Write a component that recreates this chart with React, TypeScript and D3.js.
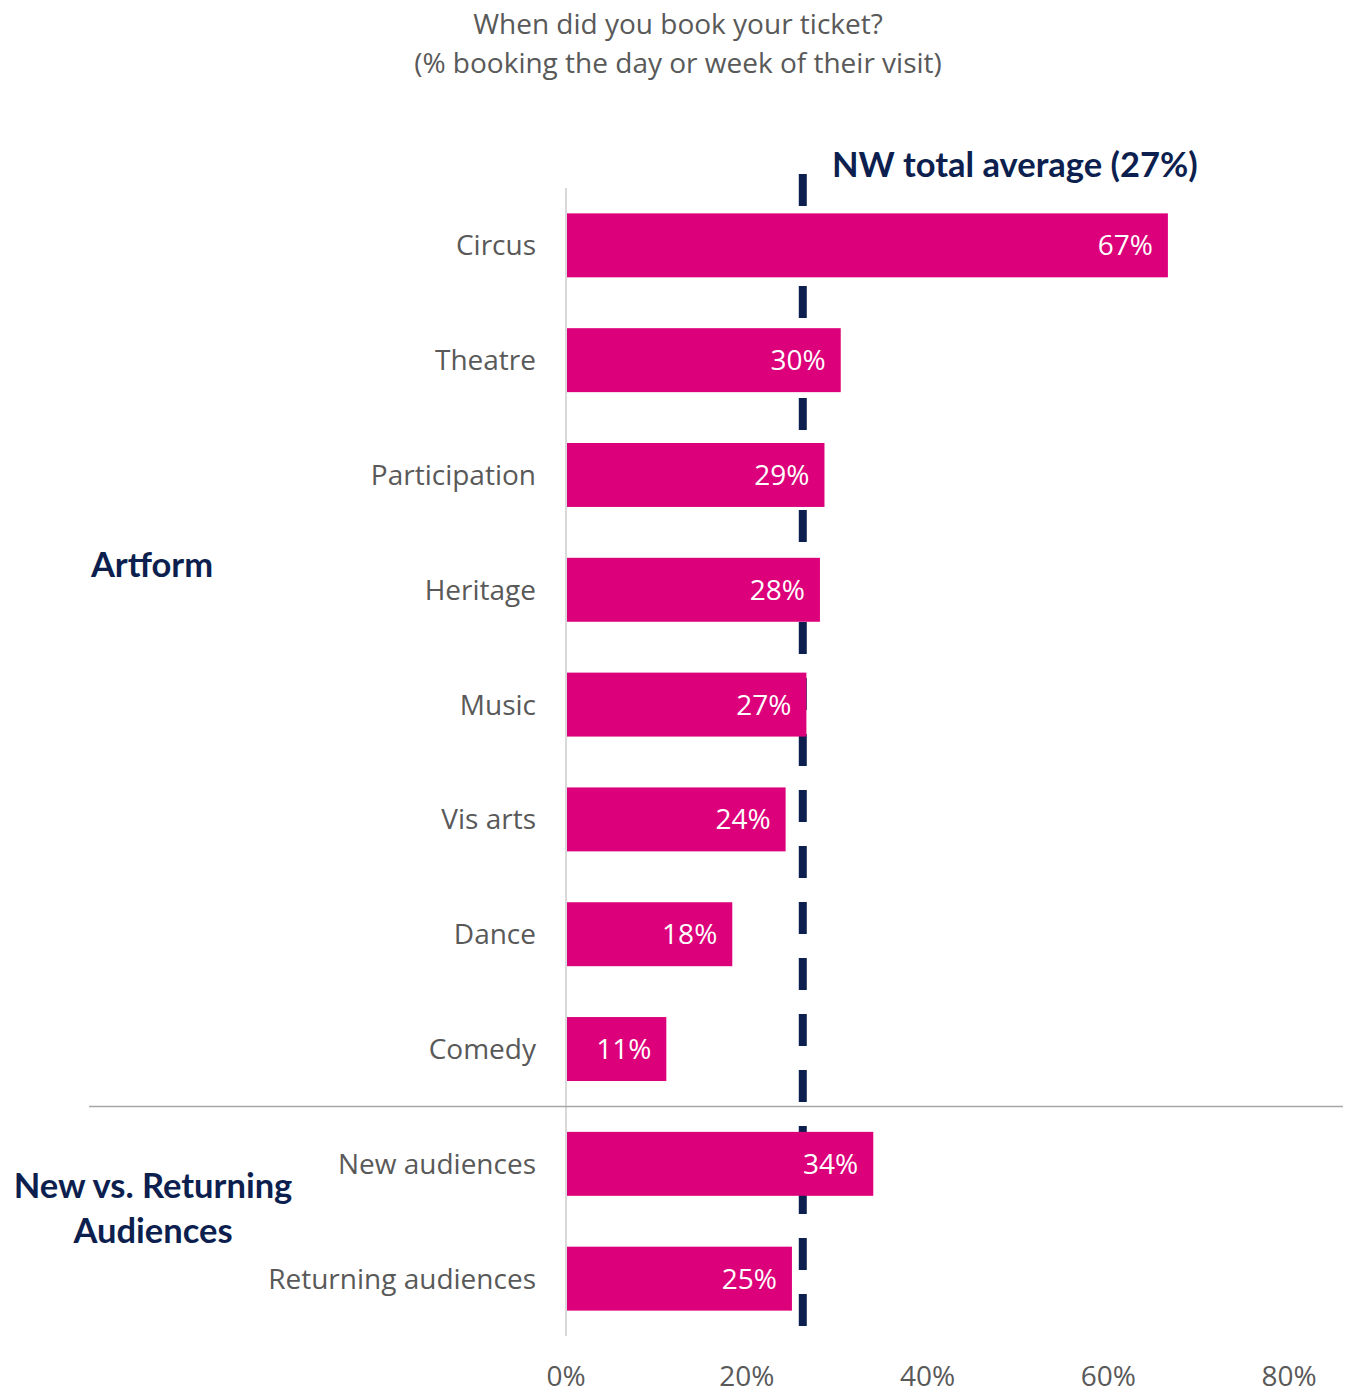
import React from "react";
import * as d3 from "d3";

const categories = [
  "Circus",
  "Theatre",
  "Participation",
  "Heritage",
  "Music",
  "Vis arts",
  "Dance",
  "Comedy",
  "New audiences",
  "Returning audiences",
];
const values = [66.6, 30.4, 28.6, 28.1, 26.6, 24.3, 18.4, 11.1, 34.0, 25.0];
const xTicks = [0, 20, 40, 60, 80];
const averageValue = 26.2;
const averageLabel = "NW total average (27%)";
const titleLines = ["When did you book your ticket?", "(% booking the day or week of their visit)"];
const groupArtform = ["Artform"];
const groupAudience = ["New vs. Returning", "Audiences"];

const FONT = "'Open Sans', Lato, sans-serif";
const BOLD_FONT = "Lato, 'Open Sans', sans-serif";
const PINK = "#DC007A";
const NAVY = "#0C1F4F";
const GREY = "#595959";

export default function App() {
  const W = 1350;
  const H = 1394;
  const x = d3.scaleLinear().domain([0, 80]).range([566, 1289]);
  const y = d3
    .scaleBand<string>()
    .domain(categories)
    .range([188, 1336])
    .paddingInner(0.443)
    .paddingOuter(0.221);
  const bw = y.bandwidth();
  const sepY = ((y("Comedy") as number) + bw + (y("New audiences") as number)) / 2;
  const fs = 28;

  return (
    <svg
      width={W}
      height={H}
      style={{ position: "absolute", left: 0, top: 0 }}
      fontFamily={FONT}
    >
      <rect x={0} y={0} width={W} height={H} fill="#fff" />
      {titleLines.map((t, i) => (
        <text key={i} x={678} y={34 + i * 39} textAnchor="middle" fontSize={fs} fill={GREY}>
          {t}
        </text>
      ))}
      <line
        x1={x(averageValue)}
        x2={x(averageValue)}
        y1={174}
        y2={1327}
        stroke={NAVY}
        strokeWidth={8}
        strokeDasharray="32 24"
      />
      <text x={832} y={177} fontSize={34.5} fontWeight={700} fill={NAVY} fontFamily={BOLD_FONT}>
        {averageLabel}
      </text>
      <line x1={x(0)} x2={x(0)} y1={188} y2={1336} stroke="#D9D9D9" strokeWidth={2} />
      <line x1={89} x2={1343} y1={sepY} y2={sepY} stroke="#A6A6A6" strokeWidth={1.5} />
      {categories.map((c, i) => {
        const y0 = y(c) as number;
        return (
          <g key={c}>
            <rect x={x(0) + 1} y={y0} width={x(values[i]) - x(0) - 1} height={bw} fill={PINK} />
            <text
              x={x(values[i]) - 15}
              y={y0 + bw / 2 + 10}
              textAnchor="end"
              fontSize={fs}
              fill="#fff"
            >
              {`${Math.round(values[i])}%`}
            </text>
            <text x={536} y={y0 + bw / 2 + 10} textAnchor="end" fontSize={fs} fill={GREY}>
              {c}
            </text>
          </g>
        );
      })}
      {xTicks.map((t) => (
        <text key={t} x={x(t)} y={1386} textAnchor="middle" fontSize={fs} fill={GREY}>
          {`${t}%`}
        </text>
      ))}
      {groupArtform.map((t, i) => (
        <text key={t} x={152} y={577 + i * 45} textAnchor="middle" fontSize={34.5} fontWeight={700} fill={NAVY} fontFamily={BOLD_FONT}>
          {t}
        </text>
      ))}
      {groupAudience.map((t, i) => (
        <text key={t} x={153} y={1198 + i * 45} textAnchor="middle" fontSize={34.5} fontWeight={700} fill={NAVY} fontFamily={BOLD_FONT}>
          {t}
        </text>
      ))}
    </svg>
  );
}
